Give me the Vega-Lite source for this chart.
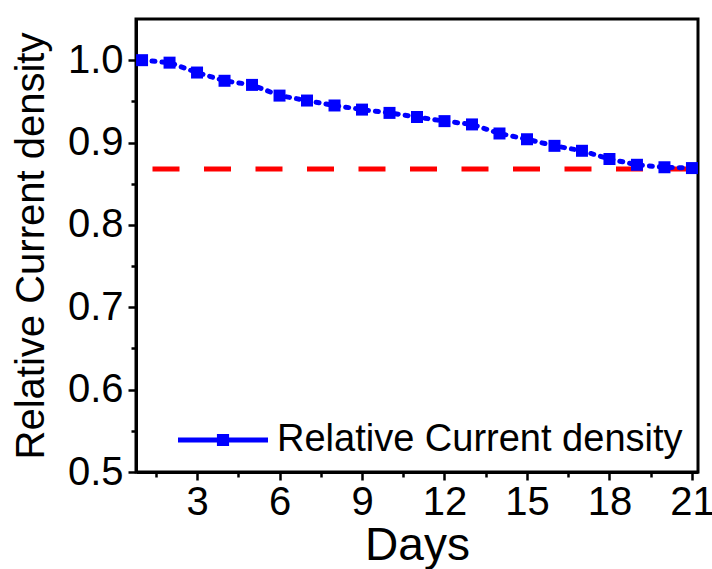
{
  "$schema": "https://vega.github.io/schema/vega-lite/v6.json",
  "width": 562,
  "height": 453,
  "autosize": {"type": "none"},
  "padding": {"left": 136, "top": 19, "right": 14, "bottom": 97},
  "background": "white",
  "config": {
    "font": "Liberation Sans",
    "view": {"stroke": "black", "strokeWidth": 3},
    "axis": {"grid": false, "domainColor": "black", "domainWidth": 3, "tickColor": "black", "tickWidth": 2.5, "labelColor": "black", "titleColor": "black", "labelFont": "Liberation Sans", "titleFont": "Liberation Sans", "titleFontWeight": "normal"}
  },
  "datasets": {
    "main": [
      {"day": 1, "value": 1.000, "series": "Relative Current density"},
      {"day": 2, "value": 0.997, "series": "Relative Current density"},
      {"day": 3, "value": 0.985, "series": "Relative Current density"},
      {"day": 4, "value": 0.975, "series": "Relative Current density"},
      {"day": 5, "value": 0.970, "series": "Relative Current density"},
      {"day": 6, "value": 0.957, "series": "Relative Current density"},
      {"day": 7, "value": 0.951, "series": "Relative Current density"},
      {"day": 8, "value": 0.945, "series": "Relative Current density"},
      {"day": 9, "value": 0.940, "series": "Relative Current density"},
      {"day": 10, "value": 0.936, "series": "Relative Current density"},
      {"day": 11, "value": 0.931, "series": "Relative Current density"},
      {"day": 12, "value": 0.926, "series": "Relative Current density"},
      {"day": 13, "value": 0.922, "series": "Relative Current density"},
      {"day": 14, "value": 0.911, "series": "Relative Current density"},
      {"day": 15, "value": 0.904, "series": "Relative Current density"},
      {"day": 16, "value": 0.896, "series": "Relative Current density"},
      {"day": 17, "value": 0.890, "series": "Relative Current density"},
      {"day": 18, "value": 0.880, "series": "Relative Current density"},
      {"day": 19, "value": 0.873, "series": "Relative Current density"},
      {"day": 20, "value": 0.870, "series": "Relative Current density"},
      {"day": 21, "value": 0.869, "series": "Relative Current density"}
    ],
    "ref": [{"start": 1.38, "end": 21.05, "level": 0.868}]
  },
  "layer": [
    {
      "data": {"name": "ref"},
      "mark": {"type": "rule", "color": "#ff0000", "strokeWidth": 5, "strokeDash": [27, 24.5]},
      "encoding": {
        "x": {"field": "start", "type": "quantitative", "scale": {"domain": [0.78, 21.22], "nice": false, "zero": false},
          "axis": {"orient": "bottom", "values": [1.5, 4.5, 7.5, 10.5, 13.5, 16.5, 19.5], "labels": false, "tickSize": 5, "domain": false, "title": null}},
        "x2": {"field": "end"},
        "y": {"field": "level", "type": "quantitative", "scale": {"domain": [0.5, 1.05], "nice": false, "zero": false},
          "axis": {"orient": "left", "values": [0.55, 0.65, 0.75, 0.85, 0.95], "labels": false, "tickSize": 5, "domain": false, "title": null}}
      }
    },
    {
      "data": {"name": "main"},
      "mark": {"type": "line", "color": "#0000ff", "strokeWidth": 5, "strokeDash": [3, 7], "strokeCap": "round"},
      "encoding": {
        "x": {"field": "day", "type": "quantitative",
          "axis": {"orient": "bottom", "values": [3, 6, 9, 12, 15, 18, 21], "tickSize": 8, "labelFontSize": 40, "labelPadding": 2, "labelFlush": false, "title": "Days", "titleFontSize": 46, "titlePadding": 1}},
        "y": {"field": "value", "type": "quantitative",
          "axis": {"orient": "left", "values": [0.5, 0.6, 0.7, 0.8, 0.9, 1.0], "format": ".1f", "tickSize": 8, "labelFontSize": 40, "labelPadding": 5, "labelFlush": false, "title": "Relative Current density", "titleFontSize": 40, "titlePadding": 16}}
      }
    },
    {
      "data": {"name": "main"},
      "mark": {"type": "point", "shape": "square", "filled": true, "size": 144, "opacity": 1},
      "encoding": {
        "x": {"field": "day", "type": "quantitative", "axis": null},
        "y": {"field": "value", "type": "quantitative", "axis": null},
        "color": {"field": "series", "type": "nominal", "scale": {"domain": ["Relative Current density"], "range": ["#0000ff"]},
          "legend": {"orient": "none", "legendX": 42, "legendY": 376, "title": null, "labelFontSize": 38, "labelLimit": 0, "labelColor": "black", "labelOffset": 9, "labelFont": "Liberation Sans",
            "symbolType": "M-1,-0.056 L1,-0.056 L1,0.056 L-1,0.056 Z M-0.135,-0.135 L0.135,-0.135 L0.135,0.135 L-0.135,0.135 Z",
            "symbolSize": 8100, "symbolFillColor": "#0000ff", "symbolStrokeWidth": 0}}
      }
    }
  ],
  "resolve": {"axis": {"x": "independent", "y": "independent"}}
}
